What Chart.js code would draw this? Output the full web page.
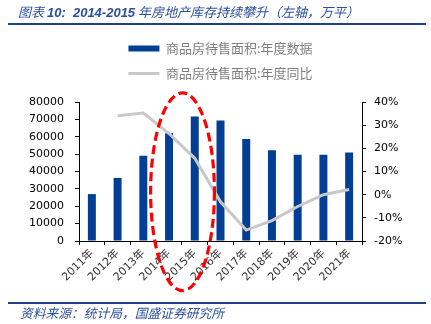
<!DOCTYPE html>
<html>
<head>
<meta charset="utf-8">
<script src="https://cdn.jsdelivr.net/npm/chart.js@4.4.1/dist/chart.umd.min.js"></script>
<style>
  html, body { margin: 0; padding: 0; background: #fff; }
  #wrap { position: relative; width: 431px; height: 324px; overflow: hidden; }
  #chart { position: absolute; left: 0; top: 0; }
  .head {
    position: absolute; left: 18px; top: 2px; white-space: nowrap;
    font: italic 13px "Noto Sans CJK SC", sans-serif; color: #2b4fa0;
  }
  .head b { font-family: "Liberation Sans", sans-serif; font-weight: bold; }
  .rule { position: absolute; left: 8px; width: 418px; height: 2px; background: #1f3f86; }
  .foot {
    position: absolute; left: 20px; top: 303px; white-space: nowrap;
    font: italic 12.75px "Noto Sans CJK SC", sans-serif; color: #2b4fa0;
  }
</style>
</head>
<body>
<div id="wrap">
  <canvas id="chart" width="431" height="324"></canvas>
  <div class="head">图表&nbsp;<b>10:&nbsp; 2014-2015</b> 年房地产库存持续攀升（左轴，万平）</div>
  <div class="rule" style="top:23px"></div>
  <div class="rule" style="top:302px"></div>
  <div class="foot">资料来源：统计局，国盛证券研究所</div>
</div>
<script>
const years = ['2011年', '2012年', '2013年', '2014年', '2015年', '2016年', '2017年', '2018年', '2019年', '2020年', '2021年'];
// 商品房待售面积（万平）
const unsoldArea = [27000, 36300, 49100, 62000, 71600, 69300, 58700, 52200, 49600, 49600, 50900];
// 同比（%）
const unsoldYoY = [null, 34.1, 35.2, 26.4, 15.7, -3.1, -15.3, -11.2, -5.1, 0.0, 2.2];
const areaTicks = [0, 80000, 10000];
const yoyTicks = [-20, 40, 10];

// dashed ring around 2014-2015, in left-axis units
const ringTop = 85200;
const ringBottom = -28600;

const font = 'DejaVu Sans, "Noto Sans CJK SC", sans-serif';

const ringPlugin = {
  id: 'ring',
  afterDraw(chart) {
    const { ctx, scales: { x, y } } = chart;
    const step = x.getPixelForValue(1) - x.getPixelForValue(0);
    const cx = (x.getPixelForValue(3) + x.getPixelForValue(4)) / 2 + 0.6;
    const top = y.getPixelForValue(ringTop);
    const bottom = y.getPixelForValue(ringBottom);
    ctx.save();
    ctx.strokeStyle = '#ff0000';
    ctx.lineWidth = 3.2;
    ctx.setLineDash([9, 4.5]);
    ctx.beginPath();
    ctx.ellipse(cx, (top + bottom) / 2, step * 1.24, (bottom - top) / 2, 0, 0, Math.PI * 2);
    ctx.stroke();
    ctx.restore();
  }
};

new Chart(document.getElementById('chart'), {
  data: {
    labels: years,
    datasets: [
      {
        type: 'bar',
        label: '商品房待售面积:年度数据',
        data: unsoldArea,
        backgroundColor: '#023e94',
        borderWidth: 0,
        pointStyle: 'rect',
        categoryPercentage: 1,
        barPercentage: 0.31,
        yAxisID: 'y',
        order: 1
      },
      {
        type: 'line',
        label: '商品房待售面积:年度同比',
        data: unsoldYoY,
        borderColor: '#c8c8c8',
        borderWidth: 3,
        pointRadius: 0,
        pointStyle: 'line',
        tension: 0,
        yAxisID: 'y1',
        order: 0
      }
    ]
  },
  options: {
    responsive: false,
    animation: false,
    layout: { padding: { top: 30, left: 0, right: 0, bottom: 0 } },
    plugins: {
      tooltip: { enabled: false },
      legend: {
        position: 'top',
        fullSize: false,
        weight: 1000,
        labels: {
          usePointStyle: true,
          pointStyleWidth: 31,
          boxHeight: 6,
          padding: 12,
          color: '#7f7f7f',
          font: { family: '"Noto Sans CJK SC", sans-serif', size: 13 },
          sort: (a, b) => a.datasetIndex - b.datasetIndex
        }
      },
      // empty spacer between legend and plot
      subtitle: {
        display: true,
        text: '',
        position: 'top',
        fullSize: false,
        weight: 500,
        padding: 0,
        font: { size: 12, lineHeight: 1 }
      }
    },
    scales: {
      x: {
        grid: { display: true, offset: true, drawOnChartArea: false, drawTicks: true, tickLength: 4, color: '#000' },
        border: { display: true, color: '#000', width: 1 },
        ticks: {
          color: '#333',
          font: { family: font, size: 11 },
          minRotation: 45,
          maxRotation: 45,
          padding: 2
        },
        afterFit(scale) { scale.height = 83; }
      },
      y: {
        position: 'left',
        min: areaTicks[0],
        max: areaTicks[1],
        grid: { drawOnChartArea: false, drawTicks: true, tickLength: 4, color: '#000' },
        border: { display: true, color: '#000', width: 1 },
        ticks: {
          stepSize: areaTicks[2],
          color: '#000',
          padding: 11,
          font: { family: font, size: 11 },
          callback: v => String(v)
        },
        afterFit(scale) { scale.width = 79; }
      },
      y1: {
        position: 'right',
        min: yoyTicks[0],
        max: yoyTicks[1],
        grid: { drawOnChartArea: false, drawTicks: true, tickLength: 4, color: '#000' },
        border: { display: true, color: '#000', width: 1 },
        ticks: {
          stepSize: yoyTicks[2],
          color: '#000',
          padding: 8,
          font: { family: font, size: 11 },
          callback: v => v + '%'
        },
        afterFit(scale) { scale.width = 69; }
      }
    }
  },
  plugins: [ringPlugin]
});
</script>
</body>
</html>
